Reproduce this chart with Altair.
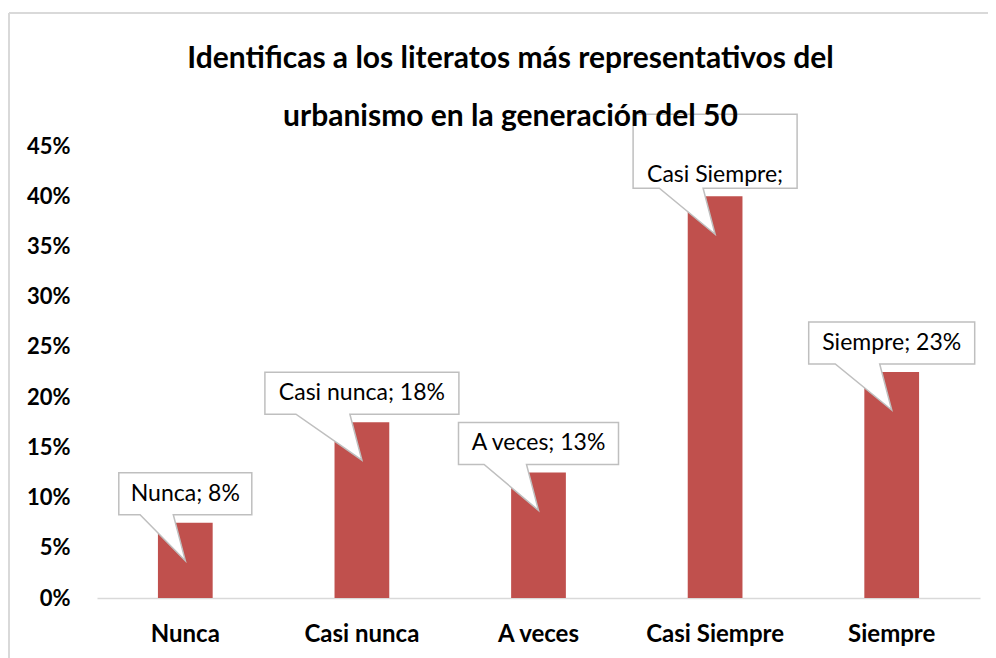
import altair as alt
import pandas as pd

# ---- data ----
categories = ["Nunca", "Casi nunca", "A veces", "Casi Siempre", "Siempre"]
values = [0.075, 0.175, 0.125, 0.40, 0.225]
label_texts = ["Nunca; 8%", "Casi nunca; 18%", "A veces; 13%", "Casi Siempre;", "Siempre; 23%"]
y_ticks = [0.0, 0.05, 0.10, 0.15, 0.20, 0.25, 0.30, 0.35, 0.40, 0.45]
title_lines = ["Identificas a los literatos más representativos del",
               "urbanismo en la generación del 50"]

# ---- callout styling (pixel sizes of the label boxes) ----
box_widths = [133, 194, 160, 164, 166]
box_heights = [42, 42, 42, 74, 42]
two_line = [False, False, False, True, False]
GAP = 8      # space between box bottom and bar top
TIP = 38     # pointer tip below bar top


def callout_path(w, h):
    top = -(GAP + h)
    bot = -GAP
    l, r = -w / 2, w / 2
    pl = -0.34 * w
    pr = -12
    return (f"M{l},{top}L{r},{top}L{r},{bot}L{pr},{bot}"
            f"L0,{TIP}L{pl},{bot}L{l},{bot}Z")


df = pd.DataFrame({
    "cat": categories,
    "val": values,
    "label": label_texts,
    "path": [callout_path(w, h) for w, h in zip(box_widths, box_heights)],
    "two": two_line,
})

FONT = "Lato"
W, H = 883, 452

x_enc = alt.X("cat:N", sort=categories, title=None,
              scale=alt.Scale(paddingInner=0.69, paddingOuter=0.345),
              axis=alt.Axis(labelAngle=0, labelFont=FONT, labelFontWeight="bold",
                            labelFontSize=24, labelColor="#000000", labelPadding=24,
                            ticks=False, domainColor="#D9D9D9", domainWidth=1.5,
                            grid=False))
y_enc = alt.Y("val:Q", title=None,
              scale=alt.Scale(domain=[0, 0.45], nice=False, zero=True),
              axis=alt.Axis(values=y_ticks, format=".0%", labelFont=FONT,
                            labelFontWeight="bold", labelFontSize=22,
                            labelColor="#000000", labelPadding=27,
                            domain=False, ticks=False, grid=False))

base = alt.Chart(df)
one = base.transform_filter("datum.cat == 'Nunca'")

frame_top = one.mark_rule(stroke="#D9D9D9", strokeWidth=2).encode(
    x=alt.value(-88), x2=alt.value(905), y=alt.value(-133))
frame_left = one.mark_rule(stroke="#D9D9D9", strokeWidth=2).encode(
    x=alt.value(-88), y=alt.value(-133), y2=alt.value(520))

bars = base.mark_bar(color="#C0504D").encode(x=x_enc, y=y_enc)

callouts = base.mark_point(filled=True, fill="white", stroke="#BFBFBF",
                           strokeWidth=1.5, opacity=1).encode(
    x=alt.X("cat:N", sort=categories),
    y=alt.Y("val:Q"),
    shape=alt.Shape("path:N", scale=None, legend=None),
    size=alt.value(4),
)

text1 = base.mark_text(font=FONT, fontSize=23, color="#000000", baseline="middle",
                       dy=-(GAP + 21)).encode(
    x=alt.X("cat:N", sort=categories), y=alt.Y("val:Q"), text="label:N"
).transform_filter("!datum.two")

text2 = base.mark_text(font=FONT, fontSize=23, color="#000000", baseline="middle",
                       dy=-21).encode(
    x=alt.X("cat:N", sort=categories), y=alt.Y("val:Q"), text="label:N"
).transform_filter("datum.two")

chart = alt.layer(frame_top, frame_left, bars, callouts, text1, text2).properties(
    width=W, height=H,
    title=alt.TitleParams(text=title_lines, font=FONT, fontSize=30, fontWeight="bold",
                          color="#000000", anchor="middle", frame="group",
                          baseline="bottom", lineHeight=58, offset=-150, dx=-28),
    autosize=alt.AutoSizeParams(type="none"),
    padding={"left": 89, "top": 138, "right": 8, "bottom": 60},
).configure(background="white").configure_view(stroke=None)

chart.save("out.html", embed_options={"renderer": "svg", "actions": False})
